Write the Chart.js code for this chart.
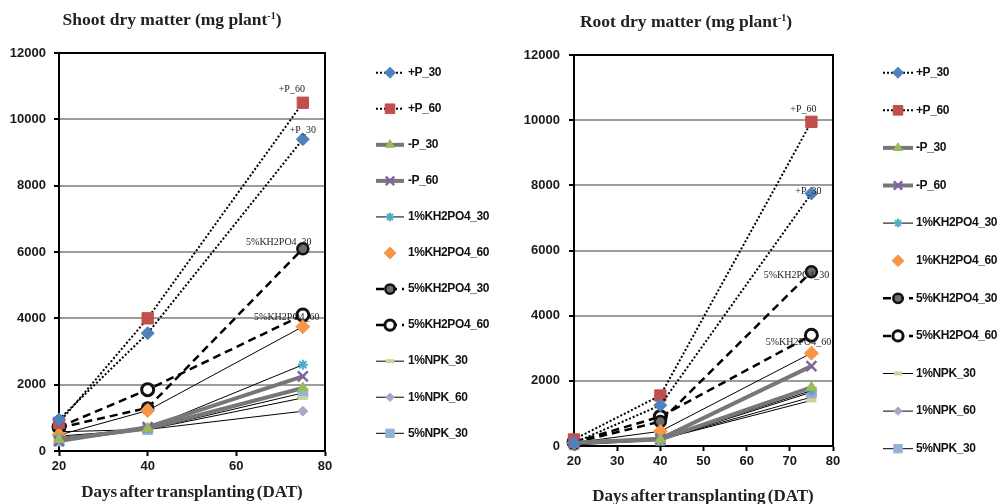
<!DOCTYPE html>
<html>
<head>
<meta charset="utf-8">
<script src="https://cdn.jsdelivr.net/npm/chart.js@4.4.1/dist/chart.umd.min.js"></script>
<style>
  body { margin: 0; background: #fff; width: 998px; height: 504px; position: relative; overflow: hidden; }
  .box { position: absolute; top: 0; height: 504px; }
  .ttl { position: absolute; font-family: 'Liberation Serif', serif; font-weight: bold; font-size: 17.5px;
         color: #222; white-space: nowrap; transform: translate(-50%, -50%); line-height: 1; }
  .ttl sup { font-size: 10px; vertical-align: 6px; }
  .xt { word-spacing: -2px; font-size: 17px; }
</style>
</head>
<body>
<div class="box" style="left:0;width:500px"><canvas id="shoot" width="500" height="504"></canvas></div>
<div class="box" style="left:500px;width:498px"><canvas id="root" width="498" height="504"></canvas></div>
<div class="ttl" style="left:172px;top:20px">Shoot dry matter (mg plant<sup>-1</sup>)</div>
<div class="ttl" style="left:686px;top:22px">Root dry matter (mg plant<sup>-1</sup>)</div>
<div class="ttl xt" style="left:192px;top:491px">Days after transplanting (DAT)</div>
<div class="ttl xt" style="left:703px;top:495px">Days after transplanting (DAT)</div>

<script>
// Sampling days
const days = [20, 40, 75];

const seriesNames = ['+P_30', '+P_60', '-P_30', '-P_60', '1%KH2PO4_30', '1%KH2PO4_60',
  '5%KH2PO4_30', '5%KH2PO4_60', '1%NPK_30', '1%NPK_60', '5%NPK_30'];

// Shoot dry matter (mg plant-1)
const shootP30 = [950, 3550, 9400];
const shootP60 = [850, 4000, 10500];
const shootNoP30 = [350, 680, 1900];
const shootNoP60 = [300, 720, 2250];
const shootKH1_30 = [400, 680, 2600];
const shootKH1_60 = [480, 1220, 3750];
const shootKH5_30 = [700, 1300, 6100];
const shootKH5_60 = [720, 1850, 4100];
const shootNPK1_30 = [580, 650, 1600];
const shootNPK1_60 = [450, 650, 1200];
const shootNPK5_30 = [300, 650, 1750];

// Root dry matter (mg plant-1)
const rootP30 = [100, 1250, 7750];
const rootP60 = [200, 1550, 9950];
const rootNoP30 = [100, 200, 1800];
const rootNoP60 = [100, 220, 2450];
const rootKH1_30 = [100, 200, 1700];
const rootKH1_60 = [100, 450, 2850];
const rootKH5_30 = [100, 750, 5350];
const rootKH5_60 = [120, 900, 3400];
const rootNPK1_30 = [80, 200, 1400];
const rootNPK1_60 = [80, 200, 1500];
const rootNPK5_30 = [30, 180, 1650];

// Series labelled next to their last point
const notedSeries = ['+P_60', '+P_30', '5%KH2PO4_30', '5%KH2PO4_60'];

const yTicksMax = 12000;
const yTickStep = 2000;

// Line and marker styles per series
const styles = [
  { line: '#000', width: 2, dash: [2, 2], point: 'rectRot', r: 6.5, fill: '#4F81BD', edge: '#4F81BD', pw: 1 },
  { line: '#000', width: 2, dash: [2, 2], point: 'rect', r: 8, fill: '#C0504D', edge: '#C0504D', pw: 1 },
  { line: '#777', width: 4, dash: [], point: 'triangle', r: 6, fill: '#9BBB59', edge: '#9BBB59', pw: 1 },
  { line: '#777', width: 4, dash: [], point: 'crossRot', r: 7, fill: '#8064A2', edge: '#8064A2', pw: 2.5 },
  { line: '#000', width: 1, dash: [], point: 'star', r: 5, fill: '#4BACC6', edge: '#4BACC6', pw: 2 },
  { line: '#000', width: 1, dash: [], point: 'rectRot', r: 7, fill: '#F79646', edge: '#F79646', pw: 1, noLegendLine: true },
  { line: '#000', width: 2.5, dash: [8, 5], point: 'circle', r: 5.5, fill: '#6e6e6e', edge: '#111', pw: 2.5 },
  { line: '#000', width: 2.5, dash: [8, 5], point: 'circle', r: 6, fill: '#fff', edge: '#111', pw: 3 },
  { line: '#000', width: 1, dash: [], point: 'line', r: 5, fill: '#C3D69B', edge: '#C3D69B', pw: 4 },
  { line: '#000', width: 1, dash: [], point: 'rectRot', r: 5, fill: '#B3A2C7', edge: '#B3A2C7', pw: 1 },
  { line: '#000', width: 1, dash: [], point: 'rect', r: 7, fill: '#95B3D7', edge: '#95B3D7', pw: 1 }
];

const tickFont = { family: "'Liberation Sans', Arial, sans-serif", size: 13, weight: 'bold' };

// Frame around the plot area
const framePlugin = {
  id: 'frame',
  beforeDatasetsDraw(chart) {
    const a = chart.chartArea, ctx = chart.ctx;
    ctx.save();
    ctx.strokeStyle = '#000';
    ctx.lineWidth = 2;
    ctx.strokeRect(a.left, a.top, a.right - a.left, a.bottom - a.top);
    ctx.restore();
  }
};

// Text notes beside selected end points
const notesPlugin = {
  id: 'notes',
  afterDatasetsDraw(chart, args, o) {
    const ctx = chart.ctx;
    ctx.save();
    ctx.font = "10px 'Liberation Serif', serif";
    ctx.fillStyle = '#222';
    ctx.textAlign = 'center';
    ctx.textBaseline = 'middle';
    notedSeries.forEach((name, k) => {
      const i = seriesNames.indexOf(name);
      const pt = chart.getDatasetMeta(i).data[2];
      const off = o.offsets[k];
      ctx.fillText(name, pt.x + off[0], pt.y + off[1]);
    });
    ctx.restore();
  }
};

// Legend on the right: line sample, marker, name
const sideLegend = {
  id: 'sideLegend',
  afterDraw(chart, args, o) {
    const ctx = chart.ctx;
    chart.data.datasets.forEach((ds, i) => {
      const st = styles[i];
      const y = o.top + i * o.step;
      ctx.save();
      if (!st.noLegendLine) {
        ctx.strokeStyle = st.line;
        ctx.lineWidth = st.width;
        ctx.setLineDash(st.dash);
        ctx.beginPath();
        ctx.moveTo(o.x0, y);
        ctx.lineTo(o.x1, y);
        ctx.stroke();
      }
      ctx.setLineDash([]);
      ctx.fillStyle = st.fill;
      ctx.strokeStyle = st.edge;
      ctx.lineWidth = st.pw;
      Chart.helpers.drawPoint(ctx, { pointStyle: st.point, radius: st.r * 0.85, rotation: 0, borderWidth: st.pw }, (o.x0 + o.x1) / 2, y);
      ctx.font = "bold 12px 'Liberation Sans', Arial, sans-serif";
      if ('letterSpacing' in ctx) ctx.letterSpacing = '-0.4px';
      ctx.fillStyle = '#111';
      ctx.textAlign = 'left';
      ctx.textBaseline = 'middle';
      ctx.fillText(ds.label, o.textX, y);
      ctx.restore();
    });
  }
};

function makeChart(id, series, g) {
  const datasets = series.map((vals, i) => {
    const st = styles[i];
    return {
      label: seriesNames[i],
      data: days.map((d, j) => ({ x: d, y: vals[j] })),
      borderColor: st.line,
      borderWidth: st.width,
      borderDash: st.dash,
      pointStyle: st.point,
      pointRadius: st.r,
      pointBackgroundColor: st.fill,
      pointBorderColor: st.edge,
      pointBorderWidth: st.pw,
      tension: 0,
      fill: false,
      clip: false
    };
  });

  return new Chart(document.getElementById(id), {
    type: 'line',
    data: { datasets: datasets },
    plugins: [framePlugin, notesPlugin, sideLegend],
    options: {
      responsive: false,
      animation: false,
      events: [],
      layout: { padding: { left: 0, right: g.padRight, top: g.padTop, bottom: 0 } },
      plugins: {
        legend: { display: false },
        tooltip: { enabled: false },
        notes: { offsets: g.noteOffsets },
        sideLegend: g.legend
      },
      scales: {
        x: {
          type: 'linear',
          min: 20,
          max: 80,
          ticks: { stepSize: g.xStep, font: tickFont, color: '#1a1a1a', padding: 3, maxRotation: 0, autoSkip: false,
                   callback: v => String(v) },
          grid: { drawOnChartArea: false, tickLength: 5, tickWidth: 2, tickColor: '#000' },
          border: { color: '#000', width: 2 },
          afterFit(s) { s.height = g.xHeight; }
        },
        y: {
          min: 0,
          max: yTicksMax,
          ticks: { stepSize: yTickStep, font: tickFont, color: '#1a1a1a', padding: g.yPad,
                   callback: v => String(v) },
          grid: { color: '#9c9c9c', lineWidth: 2, tickLength: 5, tickWidth: 2, tickColor: '#000' },
          border: { color: '#000', width: 2 },
          afterFit(s) { s.width = g.yWidth; }
        }
      }
    }
  });
}

makeChart('shoot',
  [shootP30, shootP60, shootNoP30, shootNoP60, shootKH1_30, shootKH1_60, shootKH5_30, shootKH5_60, shootNPK1_30, shootNPK1_60, shootNPK5_30],
  {
    padRight: 175, padTop: 53, xHeight: 53, yWidth: 59, yPad: 8, xStep: 20,
    noteOffsets: [[-11, -13], [0, -9], [-24, -6], [-16, 2]],
    legend: { x0: 376, x1: 404, textX: 408, top: 72.7, step: 36.06 }
  });

makeChart('root',
  [rootP30, rootP60, rootNoP30, rootNoP60, rootKH1_30, rootKH1_60, rootKH5_30, rootKH5_60, rootNPK1_30, rootNPK1_60, rootNPK5_30],
  {
    padRight: 165, padTop: 55, xHeight: 58, yWidth: 74, yPad: 9, xStep: 10,
    noteOffsets: [[-8, -12], [-3, -2], [-15, 4], [-13, 7]],
    legend: { x0: 383, x1: 413, textX: 416, top: 72.7, step: 37.6 }
  });
</script>
</body>
</html>
